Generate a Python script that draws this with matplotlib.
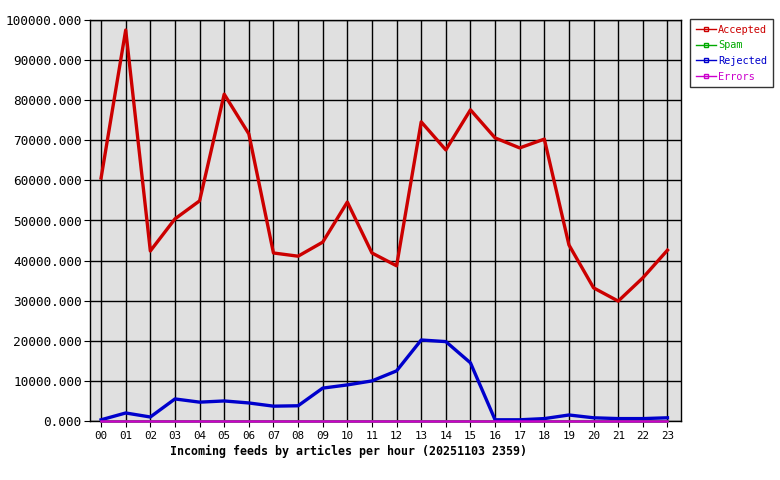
import matplotlib
matplotlib.use('Agg')
import matplotlib.pyplot as plt
from matplotlib.ticker import FormatStrFormatter

hours = ['%02d' % h for h in range(24)]
accepted = [60600, 97500, 42400, 50400, 54900, 81500, 71600, 41900, 41100, 44600,
            54600, 41900, 38700, 74600, 67600, 77600, 70600, 68100, 70300, 43900,
            33200, 29900, 35700, 42600]
spam = [0] * 24
rejected = [300, 2000, 1000, 5500, 4700, 5000, 4500, 3700, 3800, 8200,
            9000, 10000, 12500, 20200, 19800, 14500, 300, 300, 600, 1500,
            800, 600, 600, 800]
errors = [0] * 24

plt.rcParams['font.family'] = ['DejaVu Sans Mono']

fig = plt.figure(figsize=(7.8, 4.8), dpi=100)
ax = fig.add_axes([90/780, 59/480, 591/780, 401/480])
ax.set_facecolor('#e0e0e0')

x = list(range(24))
ax.plot(x, accepted, color='#cc0000', lw=2.4, label='Accepted', zorder=3)
ax.plot(x, spam, color='#00aa00', lw=1.8, label='Spam', zorder=3, clip_on=False)
ax.plot(x, rejected, color='#0000cc', lw=2.4, label='Rejected', zorder=3)
ax.plot(x, errors, color='#cc00cc', lw=1.8, label='Errors', zorder=4, clip_on=False)

ax.set_xlim(-0.45, 23.55)
ax.set_ylim(0, 100000)
ax.set_xticks(x)
ax.set_xticklabels(hours)
ax.set_yticks(range(0, 100001, 10000))
ax.yaxis.set_major_formatter(FormatStrFormatter('%.3f'))
ax.tick_params(axis='y', labelsize=9.2, length=4, pad=2, color='black')
ax.tick_params(axis='x', labelsize=7.8, length=4, pad=3, color='black')
ax.grid(True, color='black', lw=1)
ax.set_axisbelow(True)
for s in ax.spines.values():
    s.set_color('black')
    s.set_linewidth(1)

ax.set_xlabel('Incoming feeds by articles per hour (20251103 2359)',
              fontsize=8.4, fontweight='bold', labelpad=3, x=0.438)

handles, labels = ax.get_legend_handles_labels()
leg = fig.legend(handles, labels, loc='upper left', bbox_to_anchor=(690/780, 1 - 19/480),
                 fontsize=7.4, frameon=True, fancybox=False, handlelength=2.0,
                 handletextpad=0.2, borderpad=0.55, borderaxespad=0, labelspacing=0.55)
leg.get_frame().set_edgecolor('black')
leg.get_frame().set_linewidth(1)
for line, text in zip(leg.get_lines(), leg.get_texts()):
    line.set_linewidth(1)
    line.set_marker('s')
    line.set_markersize(3)
    line.set_markerfacecolor('none')
    text.set_color(line.get_color())

fig.savefig('out.png', dpi=100)
